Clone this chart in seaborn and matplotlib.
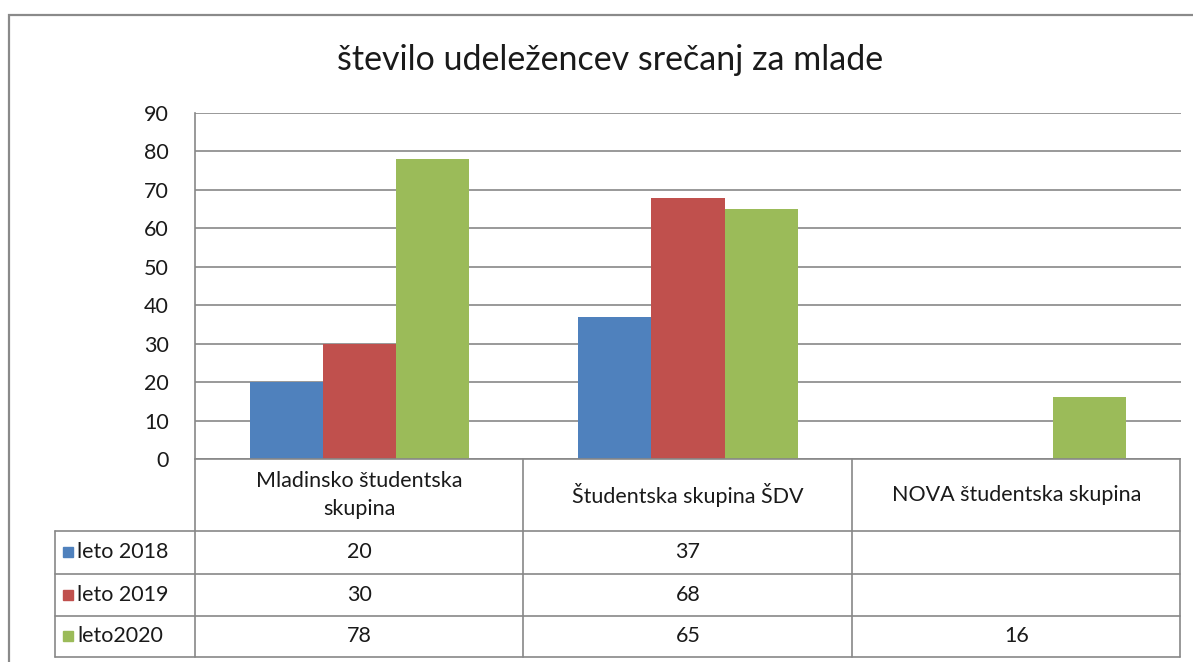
import numpy as np
import pandas as pd
import matplotlib
matplotlib.use("Agg")
import matplotlib.pyplot as plt
import matplotlib.transforms as mtransforms
from matplotlib.patches import Rectangle
import seaborn as sns

# data
categories = ["Mladinsko študentska skupina", "Študentska skupina ŠDV", "NOVA študentska skupina"]
header_labels = ["Mladinsko študentska\nskupina", "Študentska skupina ŠDV", "NOVA študentska skupina"]
series = ["leto 2018", "leto 2019", "leto2020"]
v2018 = [20, 37, np.nan]
v2019 = [30, 68, np.nan]
v2020 = [78, 65, 16]
yticks = [0, 10, 20, 30, 40, 50, 60, 70, 80, 90]
colors = ["#4F81BD", "#C0504D", "#9BBB59"]

rows = []
for s, vals in zip(series, [v2018, v2019, v2020]):
    for c, v in zip(categories, vals):
        rows.append({"Skupina": c, "Leto": s, "Udeleženci": v})
df = pd.DataFrame(rows).dropna()

sns.set_style("white")
plt.rcParams["font.family"] = ["Lato", "DejaVu Sans"]

W, H = 1193, 662
fig = plt.figure(figsize=(W / 100, H / 100), dpi=100)

def fx(px):
    return px / W

def fy(py):
    return 1 - py / H

grid_c = "#878787"
txt_c = "#1a1a1a"
fs = 15.5

# outer chart frame
fig.patches.append(Rectangle((fx(9), fy(700)), 2, fy(15) - fy(700), transform=fig.transFigure,
                             fill=False, edgecolor="#8a8a8a", lw=1.6))

ax = fig.add_axes([fx(195), fy(459), fx(1181) - fx(195), fy(113) - fy(459)])
sns.barplot(data=df, x="Skupina", y="Udeleženci", hue="Leto", order=categories,
            hue_order=series, palette=colors, width=0.667, errorbar=None,
            saturation=1, linewidth=0, ax=ax, legend=False, zorder=3)
ax.set_xlim(-0.5, 2.5)
ax.set_ylim(0, 90)
ax.set_yticks(yticks)
ax.set_yticklabels([str(t) for t in yticks], fontsize=fs, color=txt_c)
ax.tick_params(axis="y", length=0, pad=19)
ax.set_xticks([])
ax.set_xlabel("")
ax.set_ylabel("")
ax.yaxis.grid(True, color=grid_c, lw=1.2)
ax.set_axisbelow(True)
for side in ["top", "right", "bottom"]:
    ax.spines[side].set_visible(False)
ax.spines["left"].set_color(grid_c)
ax.spines["left"].set_linewidth(1.2)

fig.text(fx(610), fy(60), "število udeležencev srečanj za mlade", ha="center", va="center",
         fontsize=24.5, color=txt_c)

# data table below the plot
blend = mtransforms.blended_transform_factory(ax.transData, fig.transFigure)
tab_top, hdr_bot = 459, 531
row_lines = [531, 574, 616, 657]
col_x = [195, 523, 852, 1180]
line_kw = dict(color=grid_c, lw=1.2, transform=fig.transFigure, clip_on=False)

fig.add_artist(plt.Line2D([fx(195), fx(1180)], [fy(tab_top), fy(tab_top)], **line_kw))
for py in row_lines:
    fig.add_artist(plt.Line2D([fx(55), fx(1180)], [fy(py), fy(py)], **line_kw))
for px in col_x:
    fig.add_artist(plt.Line2D([fx(px), fx(px)], [fy(tab_top), fy(657)], **line_kw))
fig.add_artist(plt.Line2D([fx(55), fx(55)], [fy(hdr_bot), fy(657)], **line_kw))

for i, lab in enumerate(header_labels):
    ax.text(i, fy(495), lab, transform=blend, ha="center", va="center",
            fontsize=fs, color=txt_c, linespacing=1.45)

row_centers = [552, 595, 636]
for s, vals, col, rc in zip(series, [v2018, v2019, v2020], colors, row_centers):
    fig.patches.append(Rectangle((fx(63), fy(rc + 5)), fx(10), fy(rc - 5) - fy(rc + 5),
                                 transform=fig.transFigure, color=col))
    fig.text(fx(77), fy(rc), s, ha="left", va="center", fontsize=fs, color=txt_c)
    for i, v in enumerate(vals):
        if not np.isnan(v):
            ax.text(i, fy(rc), f"{v:g}", transform=blend, ha="center", va="center",
                    fontsize=fs, color=txt_c)

fig.savefig("out.png", dpi=100)
